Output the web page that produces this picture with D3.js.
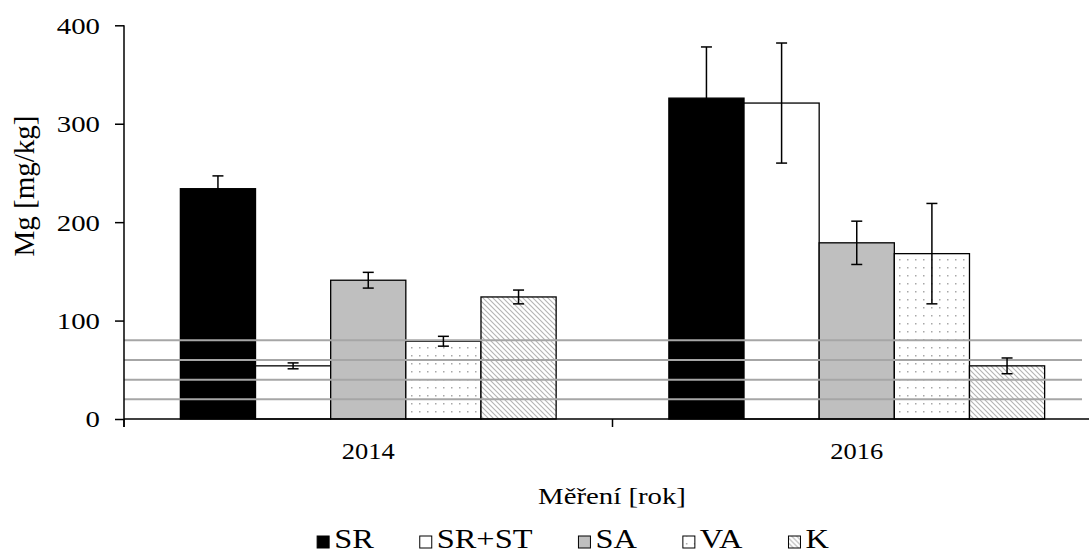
<!DOCTYPE html>
<html>
<head>
<meta charset="utf-8">
<script src="https://cdn.jsdelivr.net/npm/d3@7"></script>
<style>
  body { margin: 0; background: #fff; }
  svg { display: block; }
  text { font-family: "Liberation Serif", "Times New Roman", serif; fill: #000; }
</style>
</head>
<body>
<svg id="chart" width="1089" height="552"></svg>
<script>
// Mg content per measurement year and treatment
const years = ["2014", "2016"];
const seriesNames = ["SR", "SR+ST", "SA", "VA", "K"];
const valSR   = [234, 326];
const valSRST = [54, 321];
const valSA   = [141, 179];
const valVA   = [79, 168];
const valK    = [124, 54];
// standard deviations
const errSR   = [13, 52];
const errSRST = [3, 61];
const errSA   = [8, 22];
const errVA   = [5, 51];
const errK    = [7, 8];
// horizontal reference levels
const refLevels = [20, 40, 60, 80];
const yTicks = [0, 100, 200, 300, 400];

const values = [valSR, valSRST, valSA, valVA, valK];
const errors = [errSR, errSRST, errSA, errVA, errK];

const data = [];
years.forEach((yr, i) => {
  seriesNames.forEach((s, j) => {
    data.push({ year: yr, series: s, value: values[j][i], err: errors[j][i] });
  });
});

const SX = 1.2; // horizontal stretch of the typeface
const svg = d3.select("#chart");
const defs = svg.append("defs");

// dotted fill
const dots = defs.append("pattern").attr("id", "dots").attr("patternUnits", "userSpaceOnUse")
  .attr("width", 8).attr("height", 8);
dots.append("rect").attr("width", 8).attr("height", 8).attr("fill", "#fff");
dots.append("rect").attr("x", 3).attr("y", 3).attr("width", 1.5).attr("height", 1.5).attr("fill", "#a8a8a8");

// diagonal hatch fill
const hatch = defs.append("pattern").attr("id", "hatch").attr("patternUnits", "userSpaceOnUse")
  .attr("width", 5).attr("height", 5);
hatch.append("rect").attr("width", 5).attr("height", 5).attr("fill", "#fff");
hatch.append("path").attr("d", "M0,0 L5,5 M-1,4 L1,6 M4,-1 L6,1")
  .attr("stroke", "#b4b4b4").attr("stroke-width", 1.1);

const fills = { "SR": "#000", "SR+ST": "#fff", "SA": "#bfbfbf", "VA": "url(#dots)", "K": "url(#hatch)" };

const x0 = d3.scaleBand().domain(years).range([124, 1101]).paddingInner(0).paddingOuter(0);
const x1 = d3.scaleBand().domain(seriesNames).range([0, x0.bandwidth()]).paddingInner(0).paddingOuter(0.75);
const y = d3.scaleLinear().domain([0, 400]).range([419, 25.3]);

// bars
svg.append("g").selectAll("rect").data(data).join("rect")
  .attr("x", d => x0(d.year) + x1(d.series))
  .attr("y", d => y(d.value))
  .attr("width", x1.bandwidth())
  .attr("height", d => y(0) - y(d.value))
  .attr("fill", d => fills[d.series])
  .attr("stroke", "#000")
  .attr("stroke-width", 1.3);

// reference lines
svg.append("g").selectAll("line").data(refLevels).join("line")
  .attr("x1", 124).attr("x2", 1082)
  .attr("y1", d => y(d)).attr("y2", d => y(d))
  .attr("stroke", "#a6a6a6").attr("stroke-width", 2);

// error bars
const eb = svg.append("g").attr("stroke", "#000").attr("stroke-width", 1.5);
data.forEach(d => {
  const cx = x0(d.year) + x1(d.series) + x1.bandwidth() / 2;
  const yt = y(d.value + d.err), yb = y(d.value - d.err);
  eb.append("line").attr("x1", cx).attr("x2", cx).attr("y1", yt).attr("y2", yb);
  eb.append("line").attr("x1", cx - 5.5).attr("x2", cx + 5.5).attr("y1", yt).attr("y2", yt);
  eb.append("line").attr("x1", cx - 5.5).attr("x2", cx + 5.5).attr("y1", yb).attr("y2", yb);
});

// y axis
const yAxis = svg.append("g").attr("transform", "translate(124,0)")
  .call(d3.axisLeft(y).tickValues(yTicks).tickSize(9).tickFormat(d3.format("d")));
yAxis.select(".domain").remove();
yAxis.selectAll(".tick line").attr("stroke", "#000").attr("stroke-width", 1.5);
yAxis.selectAll(".tick text")
  .attr("x", -24 / SX).attr("dy", "0.33em")
  .attr("transform", `scale(${SX},1)`)
  .style("font-size", "24px").style("font-family", null);
yAxis.append("line").attr("x1", 0).attr("x2", 0).attr("y1", y(400)).attr("y2", 427)
  .attr("stroke", "#000").attr("stroke-width", 1.5);

// x axis
const xAxis = svg.append("g").attr("transform", "translate(0,419)")
  .call(d3.axisBottom(x0).tickSize(0));
xAxis.select(".domain").remove();
xAxis.selectAll(".tick text")
  .attr("y", 40).attr("dy", null)
  .attr("transform", `scale(${SX * 0.92},1)`)
  .style("font-size", "24px").style("font-family", null);
xAxis.append("line").attr("x1", 124).attr("x2", 1101).attr("y1", 0).attr("y2", 0)
  .attr("stroke", "#000").attr("stroke-width", 1.5);
xAxis.selectAll(".sep").data(years.map(d => x0(d)).concat([x0.range()[1]])).join("line")
  .attr("class", "sep")
  .attr("x1", d => d).attr("x2", d => d).attr("y1", 0).attr("y2", 8)
  .attr("stroke", "#000").attr("stroke-width", 1.5);

// axis titles
svg.append("g").attr("transform", "translate(612,504)")
  .append("text").attr("text-anchor", "middle").attr("transform", `scale(${SX},1)`)
  .style("font-size", "24px").text("Měření [rok]");

svg.append("g").attr("transform", "translate(33.5,186) rotate(-90)")
  .append("text").attr("text-anchor", "middle")
  .style("font-size", "29px").text("Mg [mg/kg]");

// legend
const legend = svg.append("g");
const items = legend.selectAll("g").data(seriesNames).join("g");
items.append("rect").attr("width", 12).attr("height", 12).attr("y", -12)
  .attr("fill", d => fills[d]).attr("stroke", "#000").attr("stroke-width", 1);
items.append("text").attr("x", 17 / SX).attr("transform", `scale(${SX},1)`)
  .style("font-size", "27px").text(d => d);
let lx = 0;
const gap = 46;
items.each(function () {
  const tw = d3.select(this).select("text").node().getComputedTextLength() * SX;
  d3.select(this).attr("data-w", 17 + tw);
});
items.attr("transform", function () {
  const w = +d3.select(this).attr("data-w");
  const t = `translate(${lx},0)`;
  lx += w + gap;
  return t;
});
const totalW = lx - gap;
legend.attr("transform", `translate(${573 - totalW / 2},548)`);
</script>
</body>
</html>
